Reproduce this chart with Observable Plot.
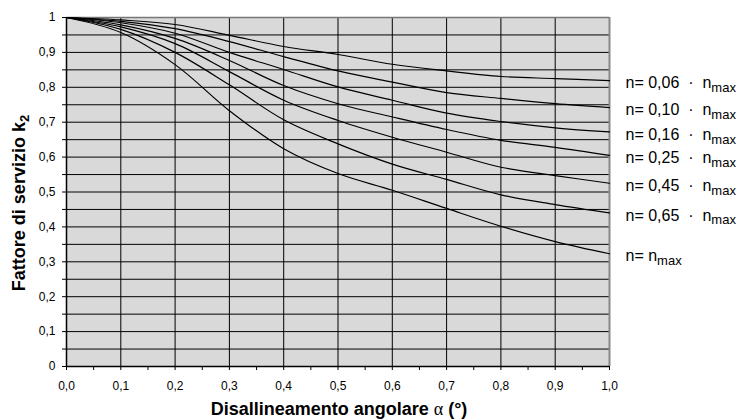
<!DOCTYPE html>
<html>
<head>
<meta charset="utf-8">
<script src="https://cdn.jsdelivr.net/npm/d3@7"></script>
<script src="https://cdn.jsdelivr.net/npm/@observablehq/plot@0.6"></script>
<style>
  html, body { margin: 0; padding: 0; background: #fff; }
  #chart svg { display: block; }
</style>
</head>
<body>
<div id="chart"></div>
<script>
// Angular misalignment α (°)
const alpha = [0, 0.1, 0.2, 0.3, 0.4, 0.5, 0.6, 0.7, 0.8, 0.9, 1.0];

// Service factor k2 for each speed ratio
const k2_n006 = [1, 0.993, 0.980, 0.949, 0.917, 0.894, 0.866, 0.847, 0.831, 0.825, 0.819];
const k2_n010 = [1, 0.989, 0.968, 0.931, 0.888, 0.847, 0.815, 0.785, 0.768, 0.753, 0.742];
const k2_n016 = [1, 0.985, 0.955, 0.900, 0.851, 0.801, 0.763, 0.726, 0.702, 0.684, 0.672];
const k2_n025 = [1, 0.979, 0.940, 0.877, 0.805, 0.753, 0.715, 0.679, 0.648, 0.628, 0.605];
const k2_n045 = [1, 0.973, 0.925, 0.845, 0.763, 0.705, 0.657, 0.614, 0.571, 0.547, 0.525];
const k2_n065 = [1, 0.966, 0.900, 0.807, 0.707, 0.638, 0.580, 0.536, 0.492, 0.464, 0.440];
const k2_nmax = [1, 0.957, 0.865, 0.733, 0.624, 0.553, 0.505, 0.453, 0.402, 0.358, 0.323];

// Series labels (the subscript "max" is appended as a tspan)
const seriesLabels = [
  "n= 0,06\u00a0\u00a0\u00b7\u00a0\u00a0n",
  "n= 0,10\u00a0\u00a0\u00b7\u00a0\u00a0n",
  "n= 0,16\u00a0\u00a0\u00b7\u00a0\u00a0n",
  "n= 0,25\u00a0\u00a0\u00b7\u00a0\u00a0n",
  "n= 0,45\u00a0\u00a0\u00b7\u00a0\u00a0n",
  "n= 0,65\u00a0\u00a0\u00b7\u00a0\u00a0n",
  "n= n"
];
const seriesValues = [k2_n006, k2_n010, k2_n016, k2_n025, k2_n045, k2_n065, k2_nmax];

// Tick values
const xTicks = [0, 0.05, 0.1, 0.15, 0.2, 0.25, 0.3, 0.35, 0.4, 0.45, 0.5, 0.55, 0.6, 0.65, 0.7, 0.75, 0.8, 0.85, 0.9, 0.95, 1.0];
const xGrid = [0.1, 0.2, 0.3, 0.4, 0.5, 0.6, 0.7, 0.8, 0.9];
const yTicks = [0, 0.05, 0.1, 0.15, 0.2, 0.25, 0.3, 0.35, 0.4, 0.45, 0.5, 0.55, 0.6, 0.65, 0.7, 0.75, 0.8, 0.85, 0.9, 0.95, 1.0];
const yGrid = [0.05, 0.1, 0.15, 0.2, 0.25, 0.3, 0.35, 0.4, 0.45, 0.5, 0.55, 0.6, 0.65, 0.7, 0.75, 0.8, 0.85, 0.9, 0.95, 1.0];

const data = seriesValues.flatMap((vals, i) =>
  vals.map((v, j) => ({series: seriesLabels[i], alpha: alpha[j], k2: v})));
const ends = seriesValues.map((vals, i) =>
  ({series: seriesLabels[i], alpha: alpha[alpha.length - 1], k2: vals[vals.length - 1]}));

const isMajor = d => Math.round(d * 20) % 2 === 0;
const fmtX = d => isMajor(d) ? d.toFixed(1).replace(".", ",") : "";
const fmtY = d => !isMajor(d) ? "" : (d === 0 ? "0" : d === 1 ? "1" : d.toFixed(1).replace(".", ","));

const chart = Plot.plot({
  width: 742,
  height: 419,
  marginLeft: 66,
  marginRight: 133,
  marginTop: 17,
  marginBottom: 53,
  x: {domain: [0, 1]},
  y: {domain: [0, 1]},
  style: "font-family: 'Liberation Sans', Arial, sans-serif; font-size: 12px; color: #000; background: #fff;",
  marks: [
    Plot.frame({fill: "#d9d9d9", stroke: null}),
    Plot.gridY(yGrid, {stroke: "#000", strokeOpacity: 1, strokeWidth: 1}),
    Plot.gridX(xGrid, {stroke: "#000", strokeOpacity: 1, strokeWidth: 1}),
    Plot.ruleX([1], {stroke: "#888", strokeWidth: 2}),
    Plot.ruleY([1], {stroke: "#777", strokeWidth: 1.5}),
    Plot.line(data, {x: "alpha", y: "k2", z: "series", curve: "catmull-rom", stroke: "#000", strokeWidth: 1.2}),
    Plot.ruleX([0], {stroke: "#000", strokeWidth: 1.5}),
    Plot.ruleY([0], {stroke: "#000", strokeWidth: 1.5}),
    Plot.axisX(xTicks, {tickSize: 4, tickPadding: 11, tickFormat: fmtX, label: null, fontSize: 12}),
    Plot.axisY(yTicks, {tickSize: 4, tickPadding: 7, tickFormat: fmtY, label: null, fontSize: 12}),
    Plot.text(ends, {x: "alpha", y: "k2", text: "series", textAnchor: "start", dx: 16, dy: 2.5, fontSize: 16})
  ]
});

const svg = d3.select(chart);

// Subscript "max" on series labels
svg.selectAll("text").filter(function() { return this.textContent.startsWith("n= "); })
  .each(function() {
    d3.select(this).append("tspan").attr("dy", "0.3em").attr("font-size", "13px").text("max");
  });

// Y axis title
const yt = svg.append("text")
  .attr("transform", "translate(25,203) rotate(-90)")
  .attr("text-anchor", "middle")
  .attr("font-weight", "bold")
  .attr("font-size", "18px")
  .attr("fill", "#000");
yt.append("tspan").text("Fattore di servizio k");
yt.append("tspan").attr("dy", "0.3em").attr("font-size", "13px").text("2");

// X axis title
const xt = svg.append("text")
  .attr("x", 339)
  .attr("y", 415)
  .attr("text-anchor", "middle")
  .attr("font-weight", "bold")
  .attr("font-size", "18px")
  .attr("fill", "#000");
xt.append("tspan").text("Disallineamento angolare ");
xt.append("tspan").attr("font-weight", "normal").attr("font-family", "'Liberation Serif', serif").text("\u03b1");
xt.append("tspan").text(" (°)");

document.getElementById("chart").appendChild(chart);
</script>
</body>
</html>
